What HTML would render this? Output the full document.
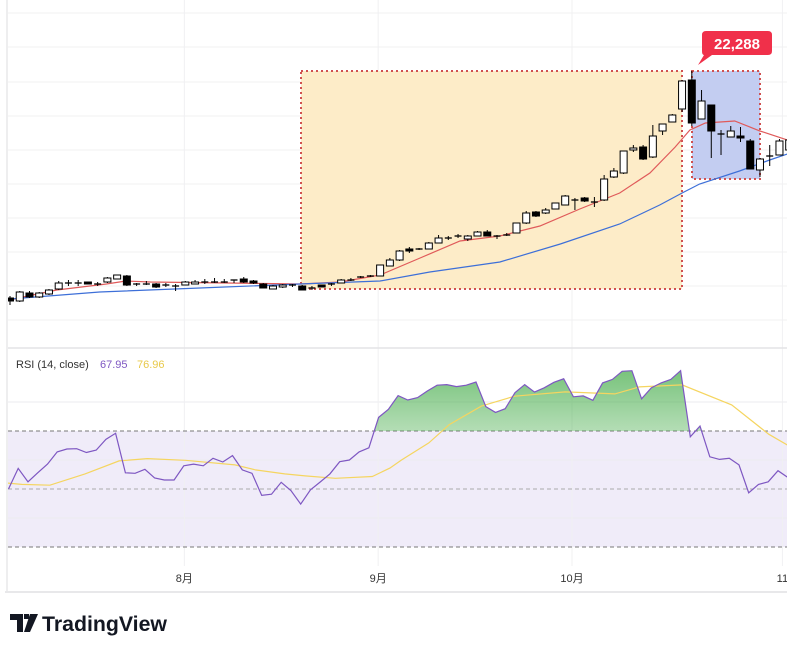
<!DOCTYPE html>
<html><head><meta charset="utf-8"><style>
body{margin:0;background:#fff;font-family:"Liberation Sans","Noto Sans CJK JP",sans-serif;}
svg{display:block}
</style></head><body>
<svg id="chart" width="787" height="653" viewBox="0 0 787 653" xmlns="http://www.w3.org/2000/svg">
<defs><linearGradient id="gg" x1="0" y1="0" x2="0" y2="1"><stop offset="0" stop-color="#4caf50" stop-opacity="0.75"/><stop offset="1" stop-color="#4caf50" stop-opacity="0.02"/></linearGradient>
<clipPath id="above70"><rect x="8" y="350" width="779" height="81"/></clipPath>
<clipPath id="mainclip"><rect x="8" y="0" width="779" height="347"/></clipPath>
<clipPath id="rsiclip"><rect x="8" y="349" width="779" height="242"/></clipPath></defs>
<g id="grid"></g>
<g id="zones">
<rect x="301" y="71" width="381" height="218" fill="#fdecc8" stroke="#d05050" stroke-width="2" stroke-dasharray="2 3"/>
<rect x="692" y="71" width="68" height="108" fill="#c3cdf1" stroke="#d05050" stroke-width="2" stroke-dasharray="2 3"/>
</g>
<g id="mas" clip-path="url(#mainclip)"></g>
<g id="candles" clip-path="url(#mainclip)"></g>
<g id="rsi" clip-path="url(#rsiclip)"></g>
<g>
<path d="M706 31 H768 Q772 31 772 35 V51 Q772 55 768 55 H712 L698 65 L704 55 Q702 55 702 51 V35 Q702 31 706 31Z" fill="#f0304a"/>
<text x="737" y="49" text-anchor="middle" fill="#fff" font-size="15" font-weight="bold">22,288</text>
</g>
<g font-size="11">
<text x="16" y="368" fill="#333">RSI (14, close)</text>
<text x="100" y="368" fill="#7e57c2">67.95</text>
<text x="137" y="368" fill="#e8c94a">76.96</text>
</g>
<g font-size="11" fill="#333" id="taxis"></g>
<line x1="5" y1="592" x2="787" y2="592" stroke="#e8e8ea" stroke-width="2"/>
<line x1="7" y1="0" x2="7" y2="592" stroke="#e8e8ea" stroke-width="1.5"/>
<line x1="8" y1="348" x2="787" y2="348" stroke="#e3e3e6" stroke-width="1.5"/>
<g>
<path d="M10 614 H23 V632 H17 V620 H10Z M24 614 h5 v5 h-5z M30 614 H38 L30 632 H24Z" fill="#131722"/>
<text x="42" y="631" font-size="21" font-weight="bold" fill="#131722" textLength="125" lengthAdjust="spacingAndGlyphs">TradingView</text>
</g>
</svg>
<script>
const opens=[17748,17688,17848,17768,17828,17928,18048,18048,18068,18028,18068,18128,18188,18028,18028,18028,18008,17988,18008,18028,18068,18068,18068,18108,18128,18088,18028,17928,17968,18008,17988,17948,18008,18028,18048,18108,18168,18188,18188,18388,18508,18728,18728,18728,18848,18948,18988,18928,18988,19068,18988,19008,19048,19248,19468,19448,19528,19608,19708,19748,19668,19708,20168,20248,20708,20768,20568,21088,21268,21528,22108,21328,21608,21028,20968,20988,20888,20308,20588,20608,20708];
const closes=[17688,17868,17768,17848,17908,18048,18048,18048,18028,18028,18148,18208,18008,18028,18028,17968,18008,17988,18068,18068,18068,18068,18068,18108,18068,18048,17948,17988,18008,17988,17908,17948,17968,18008,18108,18108,18168,18168,18408,18508,18688,18688,18708,18848,18948,18948,18988,18988,19068,18988,18968,19008,19248,19448,19388,19508,19648,19788,19708,19688,19668,20128,20288,20688,20748,20528,20988,21228,21408,22088,21248,21688,21088,21028,21088,20948,20328,20528,20588,20888,20908];
const highs=[17788,17888,17888,17868,17928,18088,18108,18108,18068,18068,18168,18208,18208,18048,18088,18048,18048,18028,18088,18108,18128,18148,18128,18108,18168,18108,18048,18008,18028,18028,18008,17988,18008,18048,18128,18148,18188,18208,18408,18548,18708,18768,18748,18868,19008,18988,19028,19008,19088,19108,19008,19048,19248,19488,19488,19548,19648,19808,19748,19768,19768,20208,20348,20688,20808,20808,21208,21228,21428,22108,22288,21908,21608,21108,21188,21168,20928,20548,20808,20928,20948];
const lows=[17608,17668,17748,17748,17808,17908,17988,17988,18028,17988,18048,18128,17988,17988,18008,17948,17968,17888,18008,18028,18028,18048,18048,18048,18048,18028,17948,17928,17948,17968,17908,17908,17968,17988,18048,18088,18148,18168,18188,18388,18488,18648,18708,18728,18848,18908,18948,18888,18988,18988,18928,18988,19048,19228,19368,19428,19528,19608,19508,19668,19568,19688,20148,20228,20668,20508,20548,21008,21268,21468,21188,21328,20548,20608,20968,20868,20328,20168,20388,20608,20708];
const emaIdx=[0,1.8,4.8,9.9,11.9,14.4,29.8,33.9,38,42.1,46.2,50.3,54.4,58.5,62.6,65.7,68.3,69.8,71.4,74.4,77,79.8];
const emaVal=[17708,17788,17908,18028,18088,18068,18028,18068,18208,18548,18888,18988,19188,19528,19848,20248,20768,21108,21248,21288,21088,20908];
const smaIdx=[0,9.2,19.5,29.8,38,43.1,50.3,56.5,62.6,66.7,69,70.8,74.9,78,79.8];
const smaVal=[17728,17868,17948,18028,18088,18268,18468,18828,19228,19608,19848,20028,20288,20508,20628];
const rsiVals=[50,57.1,52.5,55.6,58.6,62.8,63.8,63.9,62.6,63.4,67.1,69.2,55.6,55.4,56.8,53.8,53.1,53.1,58.0,58.6,58.0,60.6,59.3,61.5,56.6,55.4,47.8,48.2,52.3,49.4,44.8,49.7,52.4,55.2,59.4,60.0,62.8,64.2,74.7,77.5,82.2,80.7,81.5,83.8,85.8,86.0,85.3,85.8,86.9,78.4,76.4,77.7,83.2,86.0,83.4,84.9,86.8,88.0,81.8,82.1,80.6,86.6,87.8,90.6,90.8,81.1,84.9,86.6,87.8,90.8,68.0,71.7,61.1,60.2,60.6,58.3,48.7,51.6,52.5,56.3,54.0];
const rsiMaIdx=[-0.8,1.2,4.1,7.7,11.2,14.1,18,23.1,25.2,28.2,30.3,33.4,37.2,39,40.2,43,45.1,48.4,51.8,57,62.1,64.6,69,74.1,77.9,80];
const rsiMaVal=[52.2,51.6,51.3,55.2,59.7,60.5,59.9,58.3,56.6,55.2,54.5,53.7,54.3,57.2,60,65.9,72.2,78.6,82,83.5,82.8,85.2,85.9,79,68.9,64.8];
const monthLabels=["8月","9月","10月","11"];
const monthIdx=[17.9,37.8,57.7,79.3];

const NS="http://www.w3.org/2000/svg";
const xOf=i=>10+9.74*i;
const yP=p=>(23708-p)/20;
const yR=r=>489-(r-50)*2.9;
function mk(tag,attrs,parent){const e=document.createElementNS(NS,tag);for(const k in attrs)e.setAttribute(k,attrs[k]);parent.appendChild(e);return e;}
const grid=document.getElementById('grid');
[13,47,82,116,150,184,218,252,286,320].forEach(y=>{const l=mk('line',{x1:8,x2:787,y1:y,y2:y,stroke:'#f0f0f2'},grid);

});
const rs=document.getElementById('rsi');
const band=mk('rect',{x:8,y:yR(70),width:779,height:yR(30)-yR(70),fill:'#f0ecf9'},grid);


[80,60,40].forEach(v=>{const l=mk('line',{x1:8,x2:787,y1:yR(v),y2:yR(v),stroke:'#ebebef'},grid);

});
monthIdx.forEach(i=>{const l=mk('line',{x1:xOf(i),x2:xOf(i),y1:0,y2:566,stroke:'#f0f0f2'},grid);

});
[[70,'#777','4 3'],[50,'#aaa','4 3'],[30,'#777','4 3']].forEach(([v,c,d])=>{const l=mk('line',{x1:8,x2:787,y1:yR(v),y2:yR(v),stroke:c,'stroke-dasharray':d},rs);

});
const mas=document.getElementById('mas');
function pathOf(ix,vals,yf){return ix.map((i,k)=>(k?'L':'M')+xOf(i).toFixed(1)+' '+yf(vals[k]).toFixed(1)).join(' ');}
const e1=mk('path',{d:pathOf(emaIdx,emaVal,yP),fill:'none',stroke:'#e05a5a','stroke-width':1.2},mas);


const e2=mk('path',{d:pathOf(smaIdx,smaVal,yP),fill:'none',stroke:'#3d6fd8','stroke-width':1.2},mas);


const cg=document.getElementById('candles');
opens.forEach((o,i)=>{const c=closes[i],x=xOf(i);const g=mk('g',{},cg);


mk('line',{x1:x,x2:x,y1:yP(highs[i]),y2:yP(lows[i]),stroke:'#000','stroke-width':1},g);
const top=yP(Math.max(o,c)),bot=yP(Math.min(o,c));const h=bot-top;
if(h<1.2){mk('line',{x1:x-3.5,x2:x+3.5,y1:top,y2:top,stroke:'#000','stroke-width':1.3},g);}
else mk('rect',{x:x-3.5,y:top,width:7,height:h,fill:c>=o?'#fff':'#000',stroke:'#000','stroke-width':1},g);});
const rp=rsiVals.map((v,i)=>(i?'L':'M')+(xOf(i)-1.5).toFixed(1)+' '+yR(v).toFixed(1)).join(' ');
const fillD=rp+' L'+(xOf(rsiVals.length-1)-1.5)+' '+yR(70)+' L'+(xOf(0)-1.5)+' '+yR(70)+' Z';
const fl=mk('path',{d:fillD,fill:'url(#gg)','clip-path':'url(#above70)'},rs);


const rma=mk('path',{d:pathOf(rsiMaIdx,rsiMaVal,yR),fill:'none',stroke:'#f5d560','stroke-width':1.2},rs);


const rl=mk('path',{d:rp,fill:'none',stroke:'#7e57c2','stroke-width':1.2},rs);


const ta=document.getElementById('taxis');
monthLabels.forEach((m,k)=>{const t=mk('text',{x:xOf(monthIdx[k]),y:582,'text-anchor':'middle'},ta);t.textContent=m;

});
</script>
</body></html>
